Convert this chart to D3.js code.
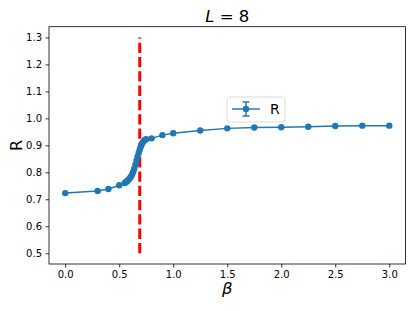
<!DOCTYPE html>
<html>
<head>
<meta charset="utf-8">
<script src="https://cdn.jsdelivr.net/npm/d3@7"></script>
<style>
  html, body { margin: 0; padding: 0; background: #fff; }
  svg { display: block; font-family: "DejaVu Sans", sans-serif; }
</style>
</head>
<body>
<div id="chart"></div>
<script>
// valeurs
const betas = [0.0, 0.3, 0.4, 0.5, 0.55, 0.56, 0.57, 0.58, 0.59, 0.60, 0.61, 0.62, 0.63, 0.64,
  0.65, 0.66, 0.67, 0.68, 0.69, 0.70, 0.71, 0.72, 0.73, 0.74, 0.75, 0.8, 0.9, 1.0,
  1.25, 1.5, 1.75, 2.0, 2.25, 2.5, 2.75, 3.0];
const rValues = [0.723, 0.731, 0.738, 0.752, 0.760, 0.763, 0.766, 0.770, 0.774, 0.779, 0.785,
  0.793, 0.802, 0.814, 0.828, 0.843, 0.858, 0.872, 0.885, 0.896, 0.905, 0.912, 0.917,
  0.921, 0.923, 0.926, 0.938, 0.945, 0.955, 0.963, 0.966, 0.967, 0.969, 0.972, 0.973, 0.973];
const xTicks = [0.0, 0.5, 1.0, 1.5, 2.0, 2.5, 3.0];
const yTicks = [0.5, 0.6, 0.7, 0.8, 0.9, 1.0, 1.1, 1.2, 1.3];
const betaCritical = 0.69;
const criticalRange = [0.5, 1.3];
const seriesName = "R";

const width = 415, height = 311;
const frame = { left: 49, right: 405.5, top: 26.7, bottom: 264 };
const blue = "#1f77b4";

const svg = d3.select("#chart").append("svg")
  .attr("width", width).attr("height", height)
  .attr("viewBox", `0 0 ${width} ${height}`);

const x = d3.scaleLinear().domain([-0.15, 3.15]).range([frame.left, frame.right]);
const y = d3.scaleLinear().domain([0.46, 1.34]).range([frame.bottom, frame.top]);

// Axes
const xAxis = svg.append("g")
  .attr("transform", `translate(0,${frame.bottom})`)
  .call(d3.axisBottom(x).tickValues(xTicks).tickFormat(d3.format(".1f")).tickSize(3.5).tickPadding(3.5));
const yAxis = svg.append("g")
  .attr("transform", `translate(${frame.left},0)`)
  .call(d3.axisLeft(y).tickValues(yTicks).tickFormat(d3.format(".1f")).tickSize(3.5).tickPadding(3.5));
[xAxis, yAxis].forEach(a => {
  a.select(".domain").remove();
  a.selectAll("text").attr("font-size", 10).attr("fill", "#000")
    .attr("font-family", "DejaVu Sans");
  a.selectAll("line").attr("stroke", "#000").attr("stroke-width", 0.8);
});

// Cadre
svg.append("rect")
  .attr("x", frame.left).attr("y", frame.top)
  .attr("width", frame.right - frame.left).attr("height", frame.bottom - frame.top)
  .attr("fill", "none").attr("stroke", "#000").attr("stroke-width", 0.8);

// Ligne critique (tracée de bas en haut)
svg.append("line")
  .attr("x1", x(betaCritical)).attr("x2", x(betaCritical))
  .attr("y1", y(criticalRange[0])).attr("y2", y(criticalRange[1]))
  .attr("stroke", "red").attr("stroke-width", 3)
  .attr("stroke-dasharray", "10.3,4");

// Série
const pts = betas.map((b, i) => [b, rValues[i]]);
svg.append("path")
  .datum(pts)
  .attr("fill", "none").attr("stroke", blue).attr("stroke-width", 1.45)
  .attr("d", d3.line().x(d => x(d[0])).y(d => y(d[1])));
svg.append("g").selectAll("circle").data(pts).join("circle")
  .attr("cx", d => x(d[0])).attr("cy", d => y(d[1]))
  .attr("r", 3.2).attr("fill", blue);

// Légende
const lg = svg.append("g").attr("transform", "translate(227,97)");
lg.append("rect").attr("width", 58).attr("height", 25).attr("rx", 2.5)
  .attr("fill", "#fff").attr("fill-opacity", 0.8)
  .attr("stroke", "#d0d0d0").attr("stroke-width", 0.8);
lg.append("line").attr("x1", 5).attr("x2", 33).attr("y1", 12).attr("y2", 12)
  .attr("stroke", blue).attr("stroke-width", 1.45);
lg.append("line").attr("x1", 19).attr("x2", 19).attr("y1", 5).attr("y2", 19)
  .attr("stroke", blue).attr("stroke-width", 1.45);
[5, 19].forEach(cy => lg.append("line")
  .attr("x1", 15.5).attr("x2", 22.5).attr("y1", cy).attr("y2", cy)
  .attr("stroke", blue).attr("stroke-width", 1.45));
lg.append("circle").attr("cx", 19).attr("cy", 12).attr("r", 3.2).attr("fill", blue);
lg.append("text").attr("x", 43).attr("y", 17).attr("font-size", 14)
  .attr("fill", "#000").text(seriesName);

// Titre et étiquettes
const title = svg.append("text")
  .attr("x", (frame.left + frame.right) / 2).attr("y", 21.5)
  .attr("text-anchor", "middle").attr("font-size", 16.5).attr("fill", "#000");
title.append("tspan").attr("font-style", "italic").text("L");
title.append("tspan").text(" = 8");

svg.append("text")
  .attr("x", (frame.left + frame.right) / 2).attr("y", 294)
  .attr("text-anchor", "middle").attr("font-size", 16.5)
  .attr("font-style", "italic").attr("fill", "#000").text("β");

svg.append("text")
  .attr("transform", `translate(22,${(frame.top + frame.bottom) / 2}) rotate(-90)`)
  .attr("text-anchor", "middle").attr("font-size", 16)
  .attr("fill", "#000").text("R");
</script>
</body>
</html>
